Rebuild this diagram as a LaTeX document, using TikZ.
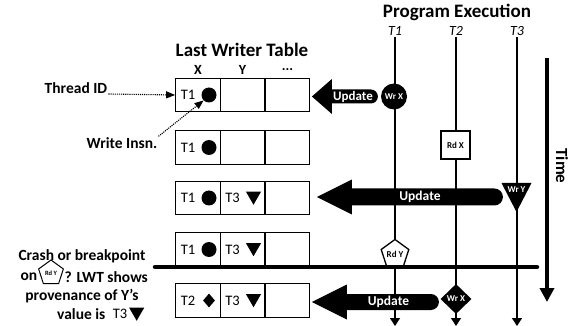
\documentclass[tikz,border=0pt]{standalone}
\usepackage{fontspec}
\setmainfont{Carlito}
\usetikzlibrary{arrows.meta, positioning, calc, shapes.geometric}

\tikzset{
  lwtcell/.style={draw, line width=1.3pt, minimum width=44.5pt, minimum height=33.5pt, inner sep=0pt},
  tidtext/.style={font=\fontsize{14.5}{16}\selectfont, inner sep=0pt},
  lwtdot/.style={circle, fill, inner sep=0pt, minimum size=15pt},
  lwttri/.style={regular polygon, regular polygon sides=3, shape border rotate=180, fill, inner sep=0pt, minimum size=17.5pt, yshift=2pt},
  lwtdia/.style={diamond, fill, inner sep=0pt, minimum width=12pt, minimum height=14pt},
  headlabel/.style={font=\fontsize{19}{20}\selectfont\bfseries, inner sep=1pt},
  collabel/.style={font=\fontsize{14}{16}\selectfont\bfseries},
  thrlabel/.style={font=\fontsize{14}{16}\selectfont\itshape, inner sep=1pt},
  sidelabel/.style={font=\fontsize{15.5}{18}\selectfont\bfseries, inner sep=1pt},
  thread/.style={line width=1.3pt, -{Triangle[length=8pt,width=10pt]}},
  pointer/.style={densely dotted, line width=1.1pt, -{Triangle[length=9pt,width=7pt]}},
  evtext/.style={font=\fontsize{9}{10}\selectfont\bfseries, inner sep=0pt},
  evcirc/.style={evtext, circle, fill=black, text=white, minimum size=26pt},
  evbox/.style={evtext, draw, fill=white, line width=1.3pt, minimum width=29pt, minimum height=28pt},
  evpent/.style={evtext, regular polygon, regular polygon sides=5, draw, fill=white, line width=1.3pt, minimum size=27pt},
  evdia/.style={evtext, diamond, fill=black, text=white, minimum width=31pt, minimum height=30pt},
  updtext/.style={font=\fontsize{13.5}{15}\selectfont\bfseries, text=white, inner sep=0pt},
  thickrule/.style={line width=4.5pt, line cap=round},
}

% one entry of the table: thread id and the shape of its write
\newcommand{\lwtentry}[3]{%
  \node[tidtext] (#1tid) at ($(#1.center)+(-10,0)$) {#2};
  \node[#3] (#1sym) at ($(#1.center)+(11,0)$) {};}

% block arrow: tip, head length, head half height, shaft half height, shaft length
\newcommand{\updarrow}[5]{%
  \fill (#1) -- ++(#2,-#3) -- ++(0,#3-#4) -- ++(#5,0)
    arc[start angle=-90, end angle=90, radius=#4]
    -- ++(-#5,0) -- ++(0,#3-#4) -- cycle;}

\begin{document}
\begin{tikzpicture}[x=1pt, y=-1pt]
    \useasboundingbox (0,0) rectangle (579,326);

    % last writer table
    \node[headlabel] (lwthead) at (242,50) {Last Writer Table};
    \node[collabel] (colx) at (198,70) {X};
    \node[collabel] (coly) at (242.5,70) {Y};
    \node[collabel] (colz) at (287.5,70) {...};
    \foreach \r/\y in {1/95, 2/147.5, 3/198, 4/249.5, 5/300.5} {
        \node[lwtcell] (lx\r) at (198,\y) {};
        \node[lwtcell] (ly\r) at (242.5,\y) {};
        \node[lwtcell] (lz\r) at (287.5,\y) {};
    }
    \lwtentry{lx1}{T1}{lwtdot}
    \lwtentry{lx2}{T1}{lwtdot}
    \lwtentry{lx3}{T1}{lwtdot}
    \lwtentry{ly3}{T3}{lwttri}
    \lwtentry{lx4}{T1}{lwtdot}
    \lwtentry{ly4}{T3}{lwttri}
    \lwtentry{lx5}{T2}{lwtdia}
    \lwtentry{ly5}{T3}{lwttri}

    % program execution
    \node[headlabel] (proghead) at (457,12.5) {Program Execution};
    \node[thrlabel] (t1) at (395,31) {T1};
    \node[thrlabel] (t2) at (456,31) {T2};
    \node[thrlabel] (t3) at (517,31) {T3};
    \coordinate (t1end) at (395,326);
    \coordinate (t2end) at (456,326);
    \coordinate (t3end) at (517,326);
    \draw[thread] (t1) -- (t1end);
    \draw[thread] (t2) -- (t2end);
    \draw[thread] (t3) -- (t3end);

    \coordinate (crashl) at (155,267);
    \coordinate (crashr) at (537,267);
    \draw[thickrule] (crashl) -- (crashr);

    \coordinate (timetop) at (547,58);
    \coordinate (timebot) at (547,302);
    \draw[line width=4.5pt, -{Triangle[length=14pt,width=14pt]}] (timetop) -- (timebot);
    \node[font=\fontsize{17}{19}\selectfont\bfseries, rotate=-90] (timelab) at (562,166) {Time};

    % events
    \node[evcirc] (wrx1) at (394,96.5) {Wr X};
    \node[evbox] (rdx) at (455.5,145) {Rd X};
    \coordinate (wry) at (516.5,183);
    \fill (wry) ++(-15,0) -- ++(30,0) -- ++(-15,29) -- cycle;
    \node[evtext, text=white] (wrylab) at ($(wry)+(0,6.5)$) {Wr Y};
    \node[evpent] (rdy) at (395,254) {Rd Y};
    \node[evdia] (wrx2) at (456,299) {Wr X};

    % updates of the table
    \updarrow{$(lz1.east)+(1.5,1.5)$}{20}{17.5}{7}{39}
    \node[updtext, font=\fontsize{13}{15}\selectfont\bfseries] (upd1) at (353,96.5) {Update};
    \updarrow{$(lz3.east)+(6.5,-1)$}{35}{17.5}{8.5}{142.5}
    \node[updtext] (upd2) at (420,197) {Update};
    \updarrow{$(lz5.east)+(1.5,1.5)$}{35}{17.5}{8}{84}
    \node[updtext] (upd3) at (388.5,301.5) {Update};

    % side notes
    \node[sidelabel] (tidlab) at (76,88) {Thread ID};
    \draw[pointer] ([yshift=-6pt]tidlab.east) -- (lx1.west);
    \node[sidelabel] (wilab) at (122,143) {Write Insn.};
    \draw[pointer] (wilab.north east) -- (lx1sym.south west);

    \node[sidelabel] (crash1) at (82,256) {Crash or breakpoint};
    \node[sidelabel, anchor=east] (crash2a) at (38.5,277) {on};
    \node[regular polygon, regular polygon sides=5, draw, line width=1pt, minimum size=26pt, inner sep=0pt,
          font=\fontsize{6.5}{7}\selectfont\bfseries] (crashpent) at (51,273) {Rd Y};
    \node[sidelabel, anchor=west] (crash2c) at (63.5,277) {? LWT shows};
    \node[sidelabel] (crash3) at (82,296) {provenance of Y’s};
    \node[sidelabel, anchor=west] (crash4a) at (56,314) {value is};
    \node[tidtext, right=6pt of crash4a] (crash4t) {T3};
    \node[lwttri, right=4pt of crash4t] (crash4sym) {};
\end{tikzpicture}
\end{document}
